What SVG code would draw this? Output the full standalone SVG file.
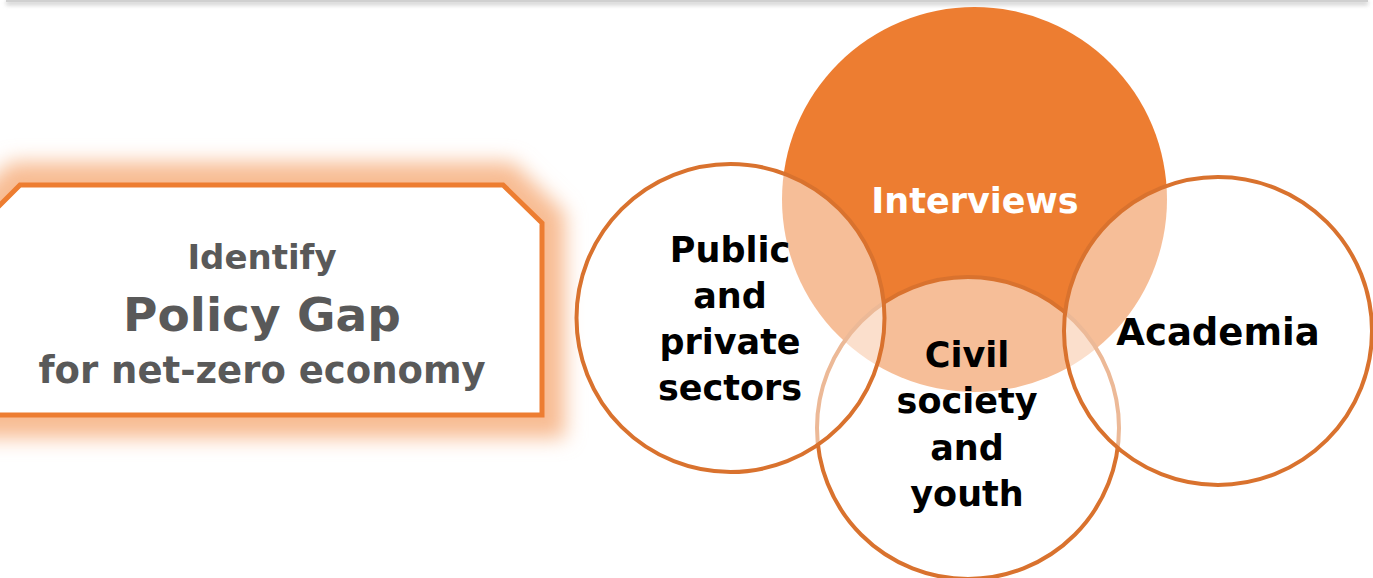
<svg xmlns="http://www.w3.org/2000/svg" width="1373" height="578" viewBox="0 0 1373 578">
  <defs>
    <filter id="glow" x="-20%" y="-50%" width="140%" height="200%">
      <feGaussianBlur stdDeviation="10"/>
    </filter>
    <filter id="shadow" x="-5%" y="-200%" width="110%" height="600%">
      <feGaussianBlur stdDeviation="2"/>
    </filter>
    <style>
      .lbl { font-family: "DejaVu Sans", "Liberation Sans", sans-serif; font-weight: bold; text-anchor: middle; }
      .dark { fill: #000000; font-size: 35px; }
      .grey { fill: #595959; }
      .ring { fill: #ffffff; fill-opacity: 0.5; stroke: #D9722E; stroke-width: 4; }
    </style>
  </defs>
  <rect width="1373" height="578" fill="#ffffff"/>

  <g id="topline">
    <rect x="6" y="1" width="1362" height="4" fill="#9a9a9a" opacity="0.5" filter="url(#shadow)"/>
    <rect x="6" y="0" width="1362" height="2" fill="#d0d0d0"/>
  </g>

  <g id="policy-gap">
    <path d="M -18 223 L 20 185 L 503 185 L 542 223 L 542 415 L -18 415 Z" fill="none" stroke="#F8BC93" stroke-width="46" filter="url(#glow)"/>
    <path d="M -18 223 L 20 185 L 503 185 L 542 223 L 542 415 L -18 415 Z" fill="#ffffff" stroke="#ED7D31" stroke-width="5"/>
    <text class="lbl grey" x="262" y="269" font-size="34">Identify</text>
    <text class="lbl grey" x="262" y="331" font-size="47">Policy Gap</text>
    <text class="lbl grey" x="262" y="383" font-size="37">for net-zero economy</text>
  </g>

  <g id="connectors"/>

  <g id="interviews">
    <circle cx="974.5" cy="199.5" r="192.5" fill="#ED7D31"/>
    <text class="lbl" x="975" y="213" font-size="35" fill="#ffffff">Interviews</text>
  </g>

  <g id="civil-society">
    <circle class="ring" cx="968" cy="428" r="151"/>
    <text class="lbl dark" x="967" y="367">Civil</text>
    <text class="lbl dark" x="967" y="413">society</text>
    <text class="lbl dark" x="967" y="460">and</text>
    <text class="lbl dark" x="967" y="506">youth</text>
  </g>

  <g id="public-private">
    <circle class="ring" cx="730.5" cy="318" r="154"/>
    <text class="lbl dark" x="730" y="262">Public</text>
    <text class="lbl dark" x="730" y="308">and</text>
    <text class="lbl dark" x="730" y="354">private</text>
    <text class="lbl dark" x="730" y="400">sectors</text>
  </g>

  <g id="academia">
    <circle class="ring" cx="1218" cy="331" r="154"/>
    <text class="lbl dark" x="1218" y="345" style="font-size:37px">Academia</text>
  </g>
</svg>
